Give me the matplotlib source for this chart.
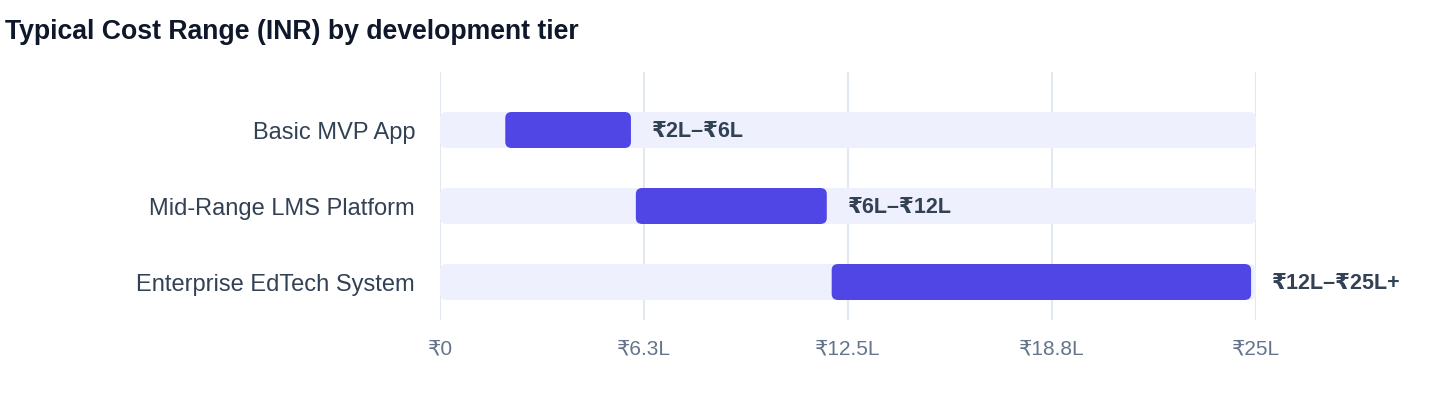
import matplotlib.pyplot as plt
from matplotlib.patches import FancyBboxPatch

plt.rcParams['font.family'] = ['Liberation Sans', 'DejaVu Sans']

# Data
tiers = ["Basic MVP App", "Mid-Range LMS Platform", "Enterprise EdTech System"]
low = [2, 6, 12]        # lakh INR
high = [6, 12, 25]
range_labels = ["₹2L–₹6L", "₹6L–₹12L", "₹12L–₹25L+"]
axis_max = 25
tick_values = [0, 6.25, 12.5, 18.75, 25]
tick_labels = ["₹0", "₹6.3L", "₹12.5L", "₹18.8L", "₹25L"]

# Colours
bar_color = "#4F46E5"
track_color = "#EEF1FD"
grid_color = "#E2E8F0"
text_dark = "#0F172A"
label_color = "#334155"
tick_color = "#64748B"

fig = plt.figure(figsize=(14.4, 4.08), dpi=100)
ax = fig.add_axes([440 / 1440, 88 / 408, 816 / 1440, 248 / 408])

ax.set_xlim(0, axis_max)
ax.set_ylim(2.5, -58 / 76)

bar_h = 36 / 76
r = 0.2                     # corner radius in x units
aspect = (6 / 76) / r       # keep corners round in pixels
end_gap = 0.15

for i, (lo, hi) in enumerate(zip(low, high)):
    track = FancyBboxPatch((0, i - bar_h / 2), axis_max, bar_h,
                           boxstyle=f"round,pad=0,rounding_size={r}",
                           mutation_aspect=aspect, fc=track_color, ec="none", zorder=2)
    ax.add_patch(track)
    rng = FancyBboxPatch((lo, i - bar_h / 2), hi - lo - end_gap, bar_h,
                         boxstyle=f"round,pad=0,rounding_size={r}",
                         mutation_aspect=aspect, fc=bar_color, ec="none", zorder=3)
    ax.add_patch(rng)
    ax.annotate(range_labels[i], xy=(hi - end_gap, i), xytext=(15, -1),
                textcoords="offset points", ha="left", va="center",
                fontsize=15.5, fontweight="bold", color=label_color,
                annotation_clip=False, zorder=4)

ax.set_yticks(range(len(tiers)))
ax.set_yticklabels(tiers, fontsize=17, color=label_color)
ax.set_xticks(tick_values)
ax.set_xticklabels(tick_labels, fontsize=15, color=tick_color)
ax.tick_params(axis="both", length=0)
ax.tick_params(axis="y", pad=18)
ax.tick_params(axis="x", pad=14)

for x in tick_values:
    ax.axvline(x, color=grid_color, lw=1.5, zorder=1)

for s in ax.spines.values():
    s.set_visible(False)

fig.text(5 / 1440, 1 - 32 / 408, "Typical Cost Range (INR) by development tier",
         fontsize=19.2, fontweight="bold", color=text_dark, ha="left", va="center")

fig.savefig("out.png", dpi=100, facecolor="white")
